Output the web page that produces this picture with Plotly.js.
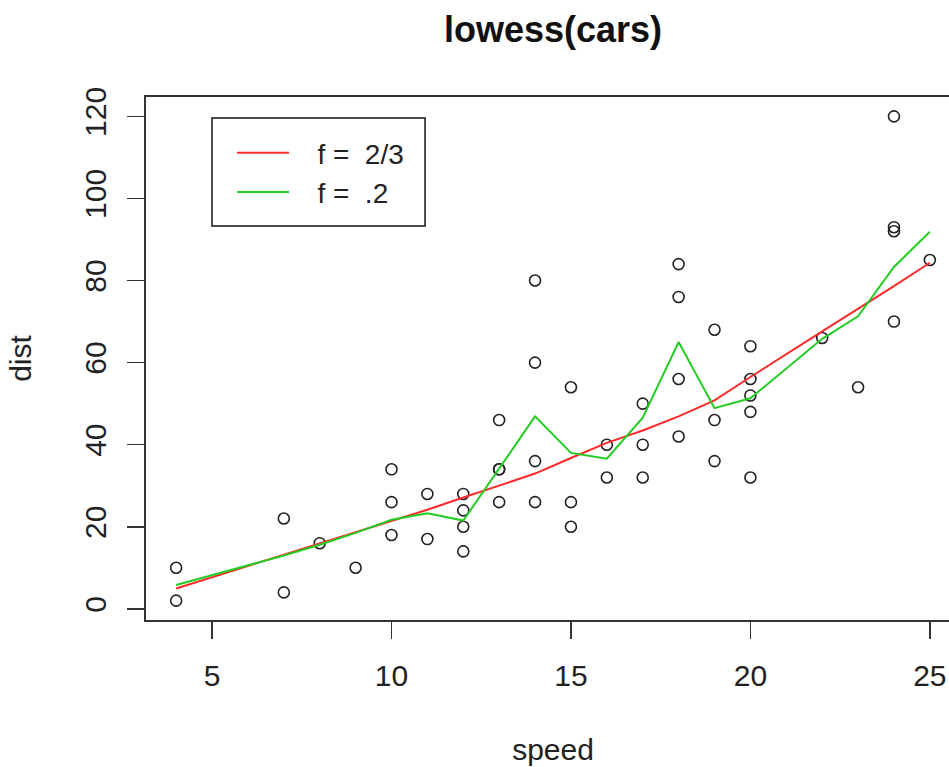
<!DOCTYPE html>
<html>
<head>
<meta charset="utf-8">
<script src="https://cdn.plot.ly/plotly-3.0.1.min.js"></script>
<style>
html, body { margin: 0; padding: 0; overflow: hidden; background: #fff; }
#chart { width: 965px; height: 767px; }
</style>
</head>
<body>
<div id="chart"></div>
<script>
// cars dataset
const speed = [4,4,7,7,8,9,10,10,10,11,11,12,12,12,12,13,13,13,13,14,14,14,14,15,15,15,16,16,17,17,17,18,18,18,18,19,19,19,20,20,20,20,20,22,23,24,24,24,24,25];
const dist  = [2,10,4,22,16,10,18,26,34,17,28,14,20,24,28,26,34,34,46,26,36,60,80,20,26,54,32,40,32,40,50,42,56,76,84,36,46,68,32,48,52,56,64,66,54,70,92,93,120,85];

// lowess smooth at unique speeds
const lowessX = [4,7,8,9,10,11,12,13,14,15,16,17,18,19,20,22,23,24,25];
const lowessF23 = [4.97,13.12,15.86,18.58,21.28,24.13,27.12,30.03,32.96,36.76,40.44,43.46,46.89,50.79,56.49,67.59,73.08,78.64,84.33];
const lowessF02 = [5.8,13.0,15.6,18.5,21.7,23.3,21.5,34.1,46.9,38.0,36.6,46.6,65.0,48.9,51.3,65.8,71.3,83.3,91.9];

const legendLabels = ["\u00a0\u00a0\u00a0f =\u00a0 2/3", "\u00a0\u00a0\u00a0f =\u00a0 .2"];
const xTicks = [5,10,15,20,25];
const yTicks = [0,20,40,60,80,100,120];

const font = "Liberation Sans, Arial, sans-serif";

const traces = [
  {
    x: speed, y: dist, type: 'scatter', mode: 'markers',
    marker: { symbol: 'circle-open', size: 11, color: '#222', line: { width: 1.6, color: '#222' } },
    showlegend: false, hoverinfo: 'x+y'
  },
  {
    x: lowessX, y: lowessF23, type: 'scatter', mode: 'lines',
    line: { color: '#ff2a2a', width: 2 }, name: legendLabels[0]
  },
  {
    x: lowessX, y: lowessF02, type: 'scatter', mode: 'lines',
    line: { color: '#22cc22', width: 2 }, name: legendLabels[1]
  }
];

const axisCommon = {
  showgrid: false, zeroline: false,
  showline: true, mirror: true, linecolor: '#333', linewidth: 2,
  ticks: 'outside', ticklen: 17, tickwidth: 1.5, tickcolor: '#333',
  tickfont: { family: font, size: 30, color: '#222' }
};

const layout = {
  width: 965, height: 767,
  margin: { l: 146, r: 5, t: 97, b: 147 },
  paper_bgcolor: '#fff', plot_bgcolor: '#fff',
  font: { family: font, color: '#222' },
  title: {
    text: '<b>lowess(cars)</b>',
    font: { family: font, size: 36, color: '#111' },
    x: 0.5, xref: 'paper', xanchor: 'center',
    y: 1 - 29/767, yref: 'container', yanchor: 'middle'
  },
  xaxis: Object.assign({}, axisCommon, {
    range: [3.16, 25.84], tickvals: xTicks, ticktext: xTicks.map(String),
    ticklabelstandoff: 11,
    title: { text: 'speed', standoff: 48, font: { family: font, size: 30, color: '#222' } }
  }),
  yaxis: Object.assign({}, axisCommon, {
    range: [-2.72, 124.72], tickvals: yTicks, ticktext: yTicks.map(String),
    tickangle: -90, ticklabelstandoff: 9,
    title: { text: 'dist', standoff: 39, font: { family: font, size: 30, color: '#222' } }
  }),
  shapes: [{
    type: 'rect', xref: 'paper', yref: 'paper',
    x0: 0.0811, x1: 0.3428, y0: 0.7533, y1: 0.9598,
    fillcolor: '#fff', line: { color: '#111', width: 1.5 }, layer: 'above'
  }],
  showlegend: true,
  legend: {
    x: 0.1057, y: 0.9407, xanchor: 'left', yanchor: 'top',
    bgcolor: 'rgba(0,0,0,0)', borderwidth: 0,
    font: { family: font, size: 28, color: '#222' },
    itemwidth: 52
  }
};

Plotly.newPlot('chart', traces, layout, { displayModeBar: false, staticPlot: true });
</script>
</body>
</html>
